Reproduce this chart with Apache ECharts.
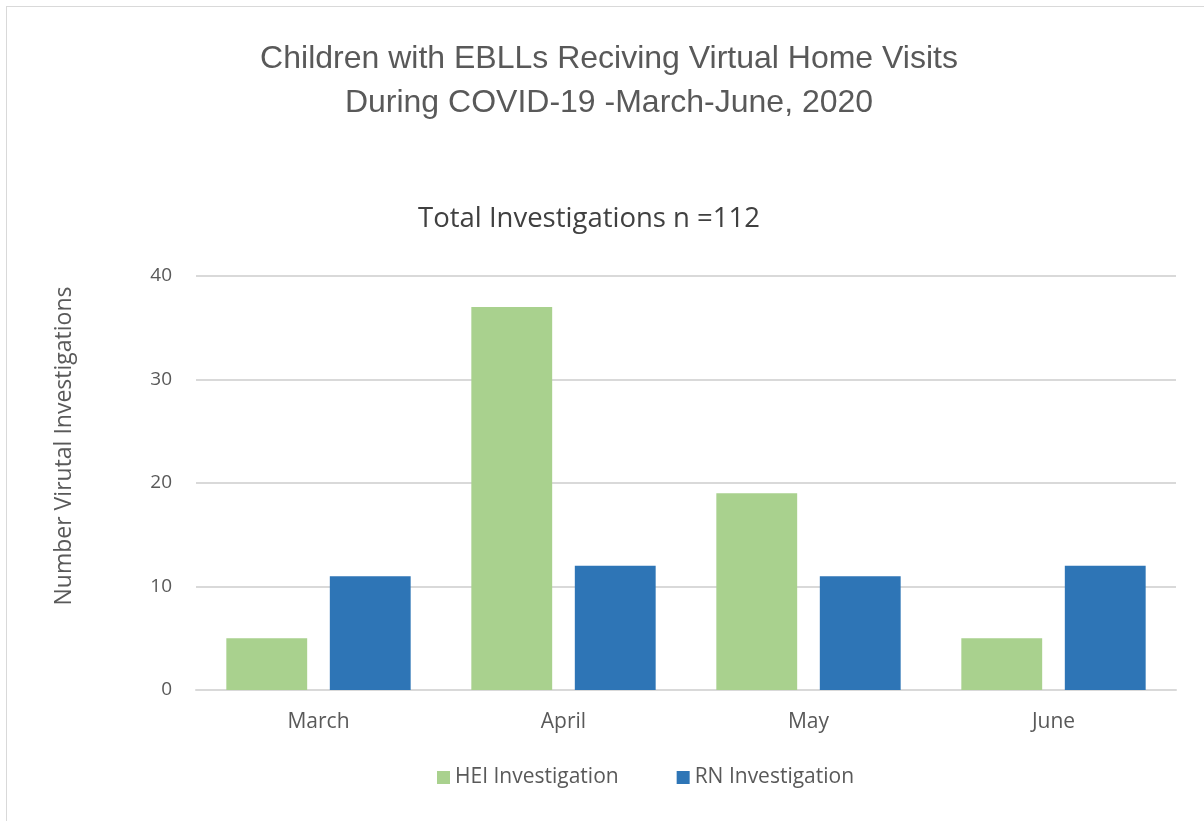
<!DOCTYPE html>
<html>
<head>
<meta charset="utf-8">
<script src="https://cdn.jsdelivr.net/npm/echarts@6/dist/echarts.min.js"></script>
<style>
  html, body { margin: 0; padding: 0; background: #fff; overflow: hidden; }
  #frame { position: absolute; left: 6px; top: 6px; width: 1300px; height: 900px; border: 1px solid #d9d9d9; box-sizing: border-box; }
  #chart { position: absolute; left: 0; top: 0; width: 1204px; height: 821px; }
</style>
</head>
<body>
<div id="frame"></div>
<div id="chart"></div>
<script>
const months = ["March", "April", "May", "June"];
const heiValues = [5, 37, 19, 5];
const rnValues = [11, 12, 11, 12];
const yTicks = [0, 10, 20, 30, 40];

const myChart = echarts.init(document.getElementById("chart"));
const option = {
  animation: false,
  title: [
    {
      text: "Children with EBLLs Reciving Virtual Home Visits\nDuring COVID-19 -March-June, 2020",
      left: 604,
      top: 32,
      textAlign: "center",
      textStyle: {
        fontFamily: "Liberation Sans",
        fontSize: 32,
        fontWeight: "normal",
        color: "#595959",
        lineHeight: 44,
      },
    },
    {
      text: "Total Investigations n =112",
      left: 584,
      top: 200,
      textAlign: "center",
      textStyle: {
        fontFamily: "Open Sans",
        fontSize: 27.5,
        fontWeight: "normal",
        color: "#404040",
      },
    },
  ],
  // 纵轴标题偏上，用 graphic 单独画
  graphic: [
    {
      type: "text",
      x: 64,
      y: 446,
      rotation: Math.PI / 2,
      style: {
        text: "Number Virutal Investigations",
        fontFamily: "Open Sans",
        fontSize: 23,
        fill: "#595959",
        align: "center",
        verticalAlign: "middle",
      },
    },
  ],
  legend: {
    top: 767,
    left: 437,
    padding: 0,
    itemWidth: 13,
    itemHeight: 13,
    itemGap: 58,
    icon: "rect",
    textStyle: {
      fontFamily: "Open Sans",
      fontSize: 21,
      color: "#595959",
    },
  },
  grid: {
    left: 196,
    right: 28,
    top: 276,
    bottom: 131,
  },
  xAxis: {
    type: "category",
    data: months,
    axisTick: { show: false },
    axisLine: { lineStyle: { color: "#d9d9d9", width: 2 } },
    axisLabel: {
      fontFamily: "Open Sans",
      fontSize: 21,
      color: "#595959",
      margin: 22,
    },
  },
  yAxis: {
    type: "value",
    min: yTicks[0],
    max: yTicks[yTicks.length - 1],
    interval: 10,
    axisLabel: {
      fontFamily: "Open Sans",
      fontSize: 19,
      color: "#595959",
      margin: 24,
    },
    splitLine: { lineStyle: { color: "#d9d9d9", width: 2 } },
  },
  series: [
    {
      name: "HEI Investigation",
      type: "bar",
      data: heiValues,
      barWidth: "33%",
      barGap: "28%",
      itemStyle: { color: "#a9d18e" },
    },
    {
      name: "RN Investigation",
      type: "bar",
      data: rnValues,
      barWidth: "33%",
      itemStyle: { color: "#2e75b6" },
    },
  ],
};
myChart.setOption(option);
window.addEventListener("resize", function () {
  myChart.resize();
});
</script>
</body>
</html>
